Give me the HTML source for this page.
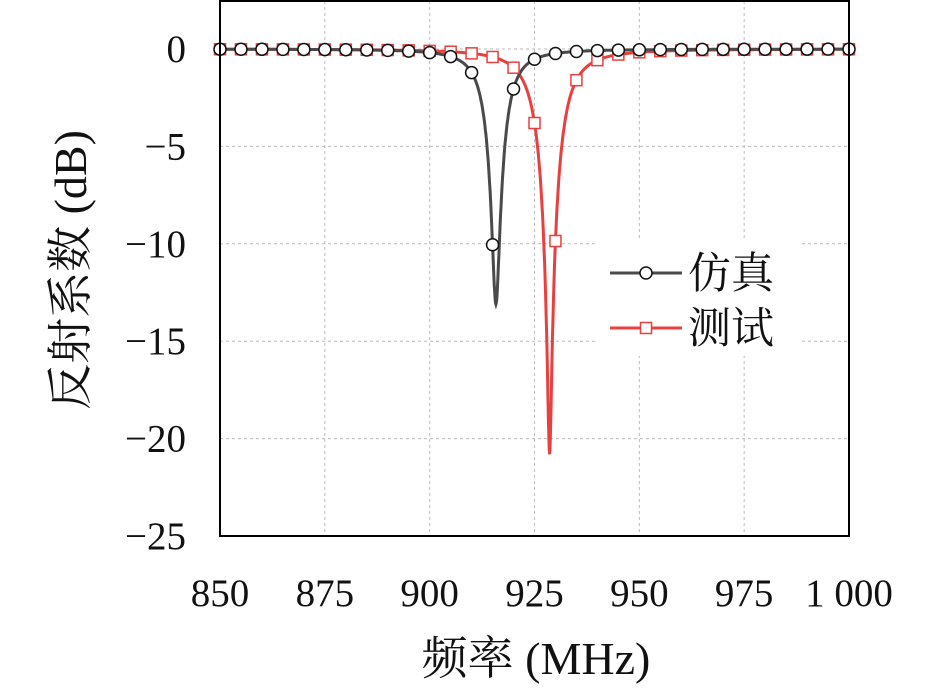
<!DOCTYPE html><html><head><meta charset="utf-8"><style>body{margin:0;background:#fff}svg{display:block}text{font-family:"Liberation Serif","Noto Serif CJK SC",serif;font-size:39px;fill:#111}</style></head><body>
<svg id="s" width="945" height="689" xmlns="http://www.w3.org/2000/svg"></svg>
<script>
const s=document.getElementById('s');
const X=f=>220+(f-850)*629/150, Y=d=>49-d*19.48;
let h='';
for(const f of [875,900,925,950,975]) h+=`<line x1="${X(f)}" y1="1" x2="${X(f)}" y2="536" stroke="#bbb" stroke-width="1" stroke-dasharray="3,3"/>`;
for(const d of [0,-5,-10,-15,-20]) h+=`<line x1="220" y1="${Y(d)}" x2="849" y2="${Y(d)}" stroke="#bbb" stroke-width="1" stroke-dasharray="3,3"/>`;
function model(f,f0,D,w){const m=1-Math.pow(10,-D/10);const u=(f-f0)/w;return 10*Math.log10(1-m/(1+u*u));}
const sim=f=>model(f,915.8,13.1,3.4), tst=f=>model(f,928.6,20.8,4.3);
function path(fn,c){let p='';for(let f=850;f<=1000;f+=0.1)p+=(p?'L':'M')+X(f).toFixed(1)+','+Y(fn(f)).toFixed(1);return `<path d="${p}" fill="none" stroke="${c}" stroke-width="3"/>`;}
h+=path(tst,'#e8403f');h+=path(sim,'#4a4a4a');
for(let f=850;f<=1000;f+=5){h+=`<rect x="${X(f)-5.5}" y="${Y(tst(f))-5.5}" width="11" height="11" fill="#fff" stroke="#e8403f" stroke-width="1.5"/>`;}
for(let f=850;f<=1000;f+=5){h+=`<circle cx="${X(f)}" cy="${Y(sim(f))}" r="6" fill="#fff" stroke="#111" stroke-width="1.5"/>`;}
h+=`<rect x="596" y="240" width="204" height="116" fill="#fff"/>`;
h+=`<line x1="610" y1="273" x2="682" y2="273" stroke="#4a4a4a" stroke-width="3"/><circle cx="646" cy="273" r="6" fill="#fff" stroke="#111" stroke-width="1.5"/>`;
h+=`<line x1="610" y1="328" x2="682" y2="328" stroke="#e8403f" stroke-width="3"/><rect x="640.5" y="322.5" width="11" height="11" fill="#fff" stroke="#e8403f" stroke-width="1.5"/>`;
h+=`<text x="688" y="288" style="font-size:43px">仿真</text><text x="688" y="343" style="font-size:43px">测试</text>`;
h+=`<rect x="220" y="1" width="629" height="535" fill="none" stroke="#000" stroke-width="2"/>`;
for(const d of [0,-5,-10,-15,-20,-25]) h+=`<text x="186" y="${Y(d)+13}" text-anchor="end">${d==0?'0':'−'+(-d)}</text>`;
const xl={850:'850',875:'875',900:'900',925:'925',950:'950',975:'975',1000:'1 000'};
for(const f in xl) h+=`<text x="${X(+f)}" y="606" text-anchor="middle">${xl[f]}</text>`;
h+=`<text x="536" y="674" text-anchor="middle" style="font-size:46px">频率 (MHz)</text>`;
h+=`<text transform="translate(86,270) rotate(-90)" text-anchor="middle" style="font-size:46px">反射系数 (dB)</text>`;
s.innerHTML=h;
</script></body></html>
